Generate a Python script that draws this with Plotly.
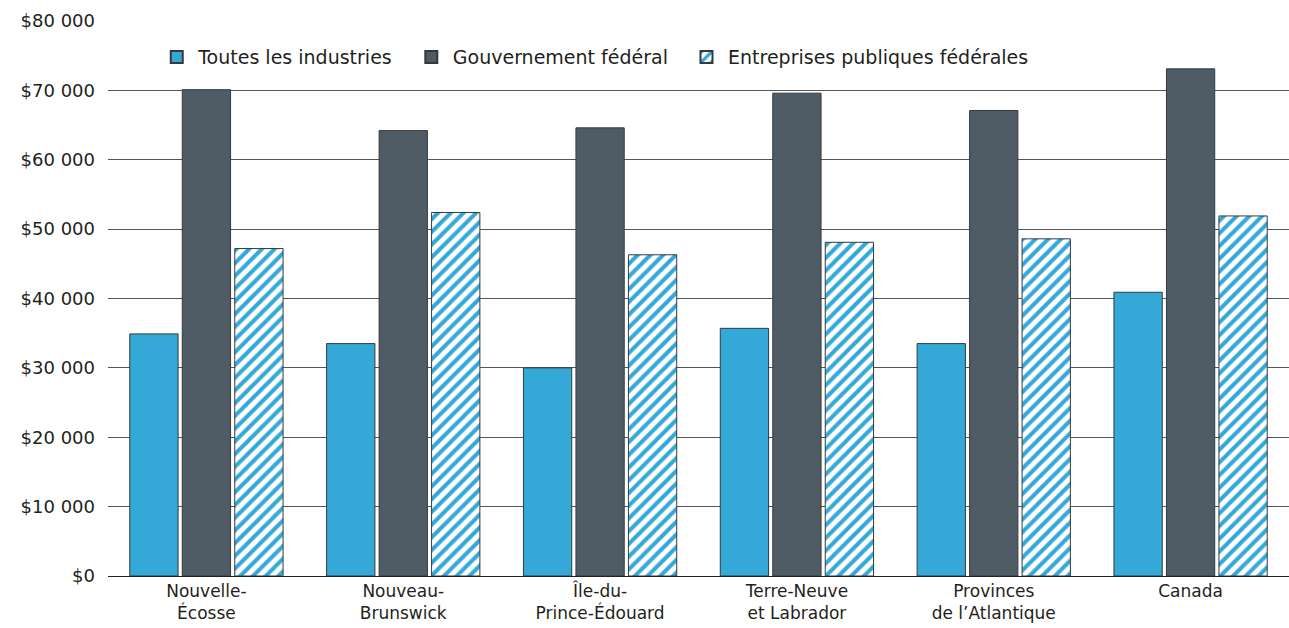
import plotly.graph_objects as go

categories = ["Nouvelle-<br>Écosse", "Nouveau-<br>Brunswick", "Île-du-<br>Prince-Édouard",
              "Terre-Neuve<br>et Labrador", "Provinces<br>de l’Atlantique", "Canada"]
toutes_industries = [34900, 33500, 30000, 35700, 33500, 40900]
gouvernement_federal = [70100, 64200, 64600, 69600, 67100, 73100]
entreprises_publiques = [47200, 52400, 46300, 48100, 48600, 51900]
series_names = ["Toutes les industries", "Gouvernement fédéral", "Entreprises publiques fédérales"]

y_tickvals = [0, 10000, 20000, 30000, 40000, 50000, 60000, 70000, 80000]
y_ticktext = ["$0", "$10 000", "$20 000", "$30 000", "$40 000", "$50 000",
              "$60 000", "$70 000", "$80 000"]

BLUE = "#34a8d6"
DARK = "#505c65"
EDGE = "#333a3f"
TEXT = "#231f20"
FONT = "DejaVu Sans"
PAD = "\u00a0\u00a0"

fig = go.Figure()
fig.add_trace(go.Bar(
    x=categories, y=toutes_industries, name=series_names[0] + PAD,
    marker=dict(color=BLUE, line=dict(color=EDGE, width=1))))
fig.add_trace(go.Bar(
    x=categories, y=gouvernement_federal, name=series_names[1] + PAD,
    marker=dict(color=DARK, line=dict(color=EDGE, width=1))))
fig.add_trace(go.Bar(
    x=categories, y=entreprises_publiques, name=series_names[2],
    marker=dict(color="white", line=dict(color=EDGE, width=1),
                pattern=dict(shape="/", fgcolor=BLUE, bgcolor="white", fgopacity=1,
                             size=9, solidity=0.45, fillmode="replace"))))

fig.update_layout(
    width=1289, height=628,
    margin=dict(l=108, r=0, t=21, b=52),
    paper_bgcolor="white", plot_bgcolor="white",
    barmode="group", bargap=0.2, bargroupgap=0.08,
    font=dict(family=FONT, size=18, color=TEXT),
    showlegend=True,
    legend=dict(orientation="h", x=0.04, y=0.935, xanchor="left", yanchor="middle",
                font=dict(family=FONT, size=19, color=TEXT),
                bgcolor="rgba(255,255,255,1)", itemsizing="constant",
                itemwidth=33, traceorder="normal"),
    xaxis=dict(showgrid=False, ticks="", showline=False, zeroline=False,
               ticklabelstandoff=3, automargin=False,
               tickfont=dict(family=FONT, size=17, color=TEXT)),
    yaxis=dict(range=[0, 80000], tickvals=y_tickvals, ticktext=y_ticktext,
               showgrid=True, gridcolor="#555555", gridwidth=1,
               zeroline=True, zerolinecolor="#222222", zerolinewidth=1,
               showline=False, ticks="", ticklabelstandoff=12, automargin=False,
               tickfont=dict(family=FONT, size=18, color=TEXT)),
)

fig.write_html("out.html")
